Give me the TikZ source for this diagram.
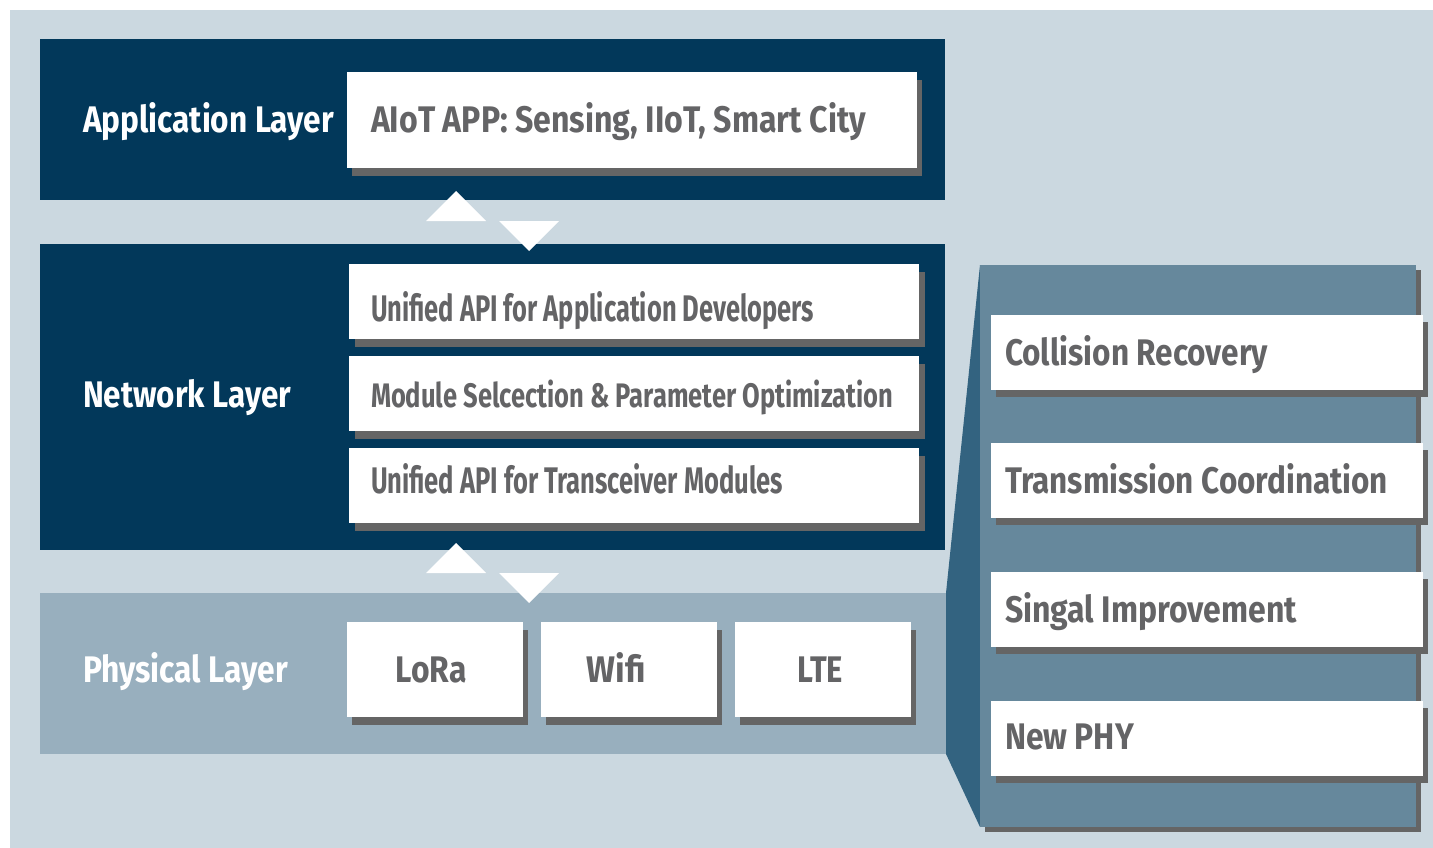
\documentclass[tikz,border=0pt]{standalone}
\usepackage{fontspec}
\setmainfont{Fira Sans}
\usepackage{graphicx}
\usetikzlibrary{shadows}
\definecolor{bg}{HTML}{CBD8E0}
\definecolor{navy}{HTML}{02385A}
\definecolor{phys}{HTML}{98AFBE}
\definecolor{panelc}{HTML}{66889C}
\definecolor{slantc}{HTML}{336380}
\definecolor{shad}{HTML}{656565}
\definecolor{txtgray}{HTML}{646466}
\newcommand\fitw[2]{\resizebox{#1pt}{\height}{#2}}
\begin{document}
\begin{tikzpicture}[x=1pt,y=-1pt,
  layer/.style={anchor=north west, inner sep=0pt, outer sep=0pt, draw=none},
  wbox/.style={anchor=north west, fill=white, inner sep=0pt, outer sep=0pt,
    drop shadow={shadow xshift=#1, shadow yshift=-8pt, opacity=1, fill=shad}},
  wbox/.default=6pt,
  rbox/.style={anchor=north west, fill=white, inner sep=0pt, outer sep=0pt,
    minimum width=432pt, minimum height=75pt,
    drop shadow={shadow xshift=5pt, shadow yshift=-7pt, opacity=1, fill=shad}},
  big/.style={font=\bfseries\fontsize{37}{40}\selectfont, inner sep=0pt, outer sep=0pt},
  wtxt/.style={big, text=white, anchor=base west},
  gtxt/.style={big, text=txtgray, anchor=base west},
  ctxt/.style={big, text=txtgray, anchor=base},
  tri/.style={fill=white}
]
\useasboundingbox (0,0) rectangle (1433,848);
\fill[bg] (10,10) rectangle (1433,848);

% layers
\node[layer, fill=navy, minimum width=905pt, minimum height=161pt] (app) at (40,39) {};
\node[layer, fill=navy, minimum width=905pt, minimum height=306pt] (net) at (40,244) {};
\node[layer, fill=phys, minimum width=906pt, minimum height=161pt] (phy) at (40,593) {};

% application layer
\node[wtxt] (tapp) at (83,133) {\fitw{251}{Application Layer}};
\node[wbox={5pt}, minimum width=570pt, minimum height=96pt] (aiot) at (347,72) {};
\node[gtxt] (taiot) at (371,133) {\fitw{495}{AIoT APP: Sensing, IIoT, Smart City}};

% arrows between application and network
\fill[tri] (426,221) -- (456,191) -- (486,221) -- cycle;
\fill[tri] (499,221) -- (559,221) -- (529,251) -- cycle;

% network layer
\node[wtxt] (tnet) at (83,407) {\fitw{208}{Network Layer}};
\node[wbox, minimum width=570pt, minimum height=75pt] (n1) at (349,264) {};
\node[wbox, minimum width=570pt, minimum height=75pt] (n2) at (349,356) {};
\node[wbox, minimum width=570pt, minimum height=75pt] (n3) at (349,448) {};
\node[gtxt] (tn1) at (371,321) {\fitw{443}{Unified API for Application Developers}};
\node[gtxt, font=\bfseries\fontsize{34}{38}\selectfont] (tn2) at (371,407) {\fitw{522}{Module Selcection \& Parameter Optimization}};
\node[gtxt] (tn3) at (371,493) {\fitw{412}{Unified API for Transceiver Modules}};

% arrows between network and physical
\fill[tri] (426,573) -- (456,543) -- (486,573) -- cycle;
\fill[tri] (499,573) -- (559,573) -- (529,603) -- cycle;

% physical layer
\node[wtxt] (tphy) at (83,682) {\fitw{205}{Physical Layer}};
\node[wbox={5pt}, minimum width=176pt, minimum height=95pt] (lora) at (347,622) {};
\node[wbox={5pt}, minimum width=176pt, minimum height=95pt] (wifi) at (541,622) {};
\node[wbox={5pt}, minimum width=176pt, minimum height=95pt] (lte) at (735,622) {};
\node[ctxt] (tlora) at (431,682) {\fitw{71}{LoRa}};
\node[ctxt] (twifi) at (616,682) {\fitw{59}{Wifi}};
\node[ctxt] (tlte) at (820,682) {\fitw{46}{LTE}};

% expansion panel
\fill[slantc] (980,265) -- (946,593) -- (946,754) -- (980,827) -- cycle;
\node[layer, fill=panelc, minimum width=436pt, minimum height=562pt,
  drop shadow={shadow xshift=5pt, shadow yshift=-5pt, opacity=1, fill=shad}] (panel) at (980,265) {};

\node[rbox] (r1) at (991,315) {};
\node[rbox] (r2) at (991,443) {};
\node[rbox] (r3) at (991,572) {};
\node[rbox] (r4) at (991,701) {};
\node[gtxt] (tr1) at (1005,365) {\fitw{263}{Collision Recovery}};
\node[gtxt] (tr2) at (1005,493) {\fitw{383}{Transmission Coordination}};
\node[gtxt] (tr3) at (1005,622) {\fitw{292}{Singal Improvement}};
\node[gtxt] (tr4) at (1005,749) {\fitw{129}{New PHY}};
\end{tikzpicture}
\end{document}
